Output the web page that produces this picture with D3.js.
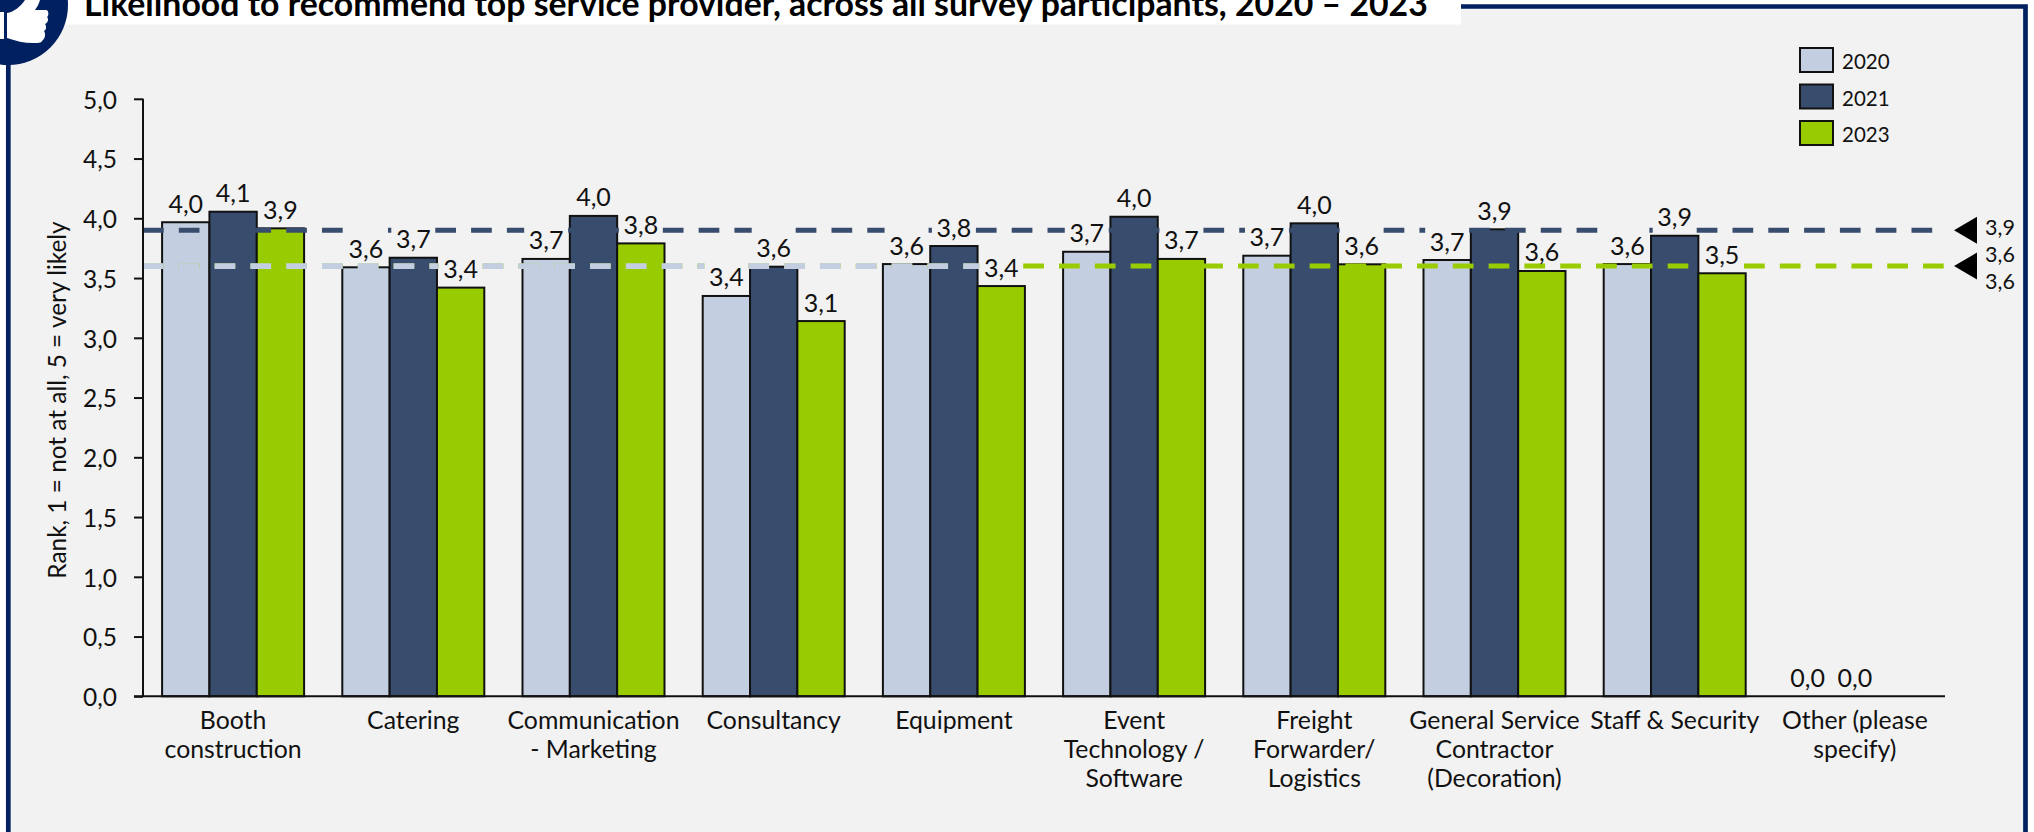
<!DOCTYPE html>
<html><head><meta charset="utf-8">
<script src="https://cdn.jsdelivr.net/npm/d3@7"></script>
<style>
html,body{margin:0;padding:0;background:#fff;overflow:hidden}
svg{display:block}
text{font-family:Lato,"Noto Sans",sans-serif;fill:#111}
</style></head><body><svg id="c" width="2034" height="832"></svg>
<script>
const categories=[["Booth","construction"],["Catering"],["Communication","- Marketing"],["Consultancy"],["Equipment"],["Event","Technology /","Software"],["Freight","Forwarder/","Logistics"],["General Service","Contractor","(Decoration)"],["Staff & Security"],["Other (please","specify)"]];
const years=["2020","2021","2023"];
const values2020=[3.967,3.59,3.66,3.35,3.617,3.72,3.687,3.651,3.617,0];
const values2021=[4.055,3.67,4.02,3.595,3.768,4.013,3.958,3.908,3.854,0];
const values2023=[3.916,3.42,3.79,3.14,3.433,3.66,3.615,3.559,3.54,null];
const averages=[3.6,3.9,3.6];
const yTicks=[0,.5,1,1.5,2,2.5,3,3.5,4,4.5,5];
const colors=["#c3cfe1","#384d6e","#99cc00"];
const title="Likelihood to recommend top service provider, across all survey participants, 2020 – 2023";
const yTitle="Rank, 1 = not at all, 5 = very likely";

const svg=d3.select("#c");
const X0=143,X1=1945,Y0=696.3,Y1=98.8;
const x=d3.scaleBand().domain(d3.range(categories.length)).range([X0,X1]).paddingInner(.212).paddingOuter(.106);
const xs=d3.scaleBand().domain(d3.range(3)).range([0,x.bandwidth()]);
const y=d3.scaleLinear().domain([0,5]).range([Y0,Y1]);
const fmt=d3.formatLocale({decimal:",",thousands:".",grouping:[3],currency:["","€"]}).format(".1f");
const NAVY="#002060",BG="#f2f2f2";

// panel + frame
svg.append("rect").attr("x",8).attr("y",6).attr("width",2017).attr("height",832).attr("fill",BG);
svg.append("path").attr("d","M8.3,832V6.5H2025.5V832").attr("fill","none").attr("stroke",NAVY).attr("stroke-width",4.7);
svg.append("rect").attr("x",60).attr("y",0).attr("width",1401).attr("height",24.5).attr("fill","#fff");
svg.append("text").attr("x",84).attr("y",16).attr("font-size",33.8).attr("font-weight",700).style("fill","#000").text(title);
// thumb icon
svg.append("circle").attr("cx",8).attr("cy",5).attr("r",60).attr("fill",NAVY);
svg.append("rect").attr("x",0).attr("y",12).attr("width",4).attr("height",27).attr("fill","#fff");
svg.append("path").attr("fill","#fff").attr("d","M7,13 C14,12 21,6 25,0 L40,0 C39,4 37,7 35,10 L46,10 C49,10 49,16 47,17 C49,19 48,23 45,24 C47,27 46,30 44,31 C46,34 45,39 42,41 C41,43 38,43 33,43 C24,43 16,41 7,38 Z");

// bars
const series=[values2020,values2021,values2023];
const labels=[];
series.forEach((vals,s)=>{
  svg.append("g").selectAll("rect").data(vals.map((v,i)=>({v,i})).filter(d=>d.v!==null&&d.v>0)).join("rect")
    .attr("x",d=>x(d.i)+xs(s)).attr("width",xs.bandwidth())
    .attr("y",d=>y(d.v)).attr("height",d=>Y0-y(d.v))
    .attr("fill",colors[s]).attr("stroke","#111").attr("stroke-width",2);
  vals.forEach((v,i)=>{ if(v!==null) labels.push({v,cx:x(i)+xs(s)+xs.bandwidth()/2,cy:y(v)-18}); });
});

// reference lines: each dashed run restarts after a label's box
const boxes=labels.map(l=>({x0:l.cx-22,x1:l.cx+22,y0:l.cy-22,y1:l.cy+13}));
function runs(val,endX){
  const yy=y(val),hit=boxes.filter(b=>b.y0<yy&&b.y1>yy).sort((a,b)=>a.x0-b.x0);
  const out=[];let st=X0;
  hit.forEach(b=>{ if(b.x0>st) out.push([st,Math.min(b.x0,endX)]); st=Math.max(st,b.x1); });
  if(st<endX) out.push([st,endX]);
  return out.filter(r=>r[1]>r[0]);
}
function drawRef(val,color,endX,w){
  svg.append("g").selectAll("line").data(runs(val,endX)).join("line")
   .attr("x1",d=>d[0]).attr("x2",d=>d[1]).attr("y1",y(val)).attr("y2",y(val))
   .attr("stroke",color).attr("stroke-width",w).attr("stroke-dasharray","20.7 15.1");
}
drawRef(averages[2],colors[2],X1,5);
drawRef(averages[1],colors[1],X1,5);
const lightEnd=x(4)+xs(2)+xs.bandwidth()/2-22;
drawRef(averages[0],colors[0],lightEnd,5.6);

// data labels
svg.append("g").selectAll("text").data(labels).join("text")
 .attr("x",d=>d.cx).attr("y",d=>d.cy+8.5).attr("text-anchor","middle").attr("font-size",25).text(d=>fmt(d.v));

// axes
const ya=svg.append("g").attr("transform",`translate(${X0},0)`).call(d3.axisLeft(y).tickValues(yTicks).tickSize(9).tickPadding(17).tickFormat(fmt));
ya.selectAll("text").attr("font-size",24.5).attr("font-family","Lato").attr("dy","0.38em").style("fill","#111");
ya.selectAll("line,path").attr("stroke","#111").attr("stroke-width",2);
ya.select("path").attr("d",`M0,${Y1}V${Y0}`);
svg.append("line").attr("x1",X0-9).attr("x2",X1).attr("y1",Y0).attr("y2",Y0).attr("stroke","#111").attr("stroke-width",2);

svg.append("text").attr("transform",`translate(66,400) rotate(-90)`).attr("text-anchor","middle").attr("font-size",24.4).text(yTitle);

// category labels
const cat=svg.append("g").selectAll("text").data(categories).join("text")
 .attr("text-anchor","middle").attr("font-size",24.8);
cat.each(function(lines,i){
  d3.select(this).selectAll("tspan").data(lines).join("tspan")
   .attr("x",x(i)+x.bandwidth()/2).attr("y",(d,k)=>728.5+k*29.3).text(d=>d);
});

// legend
const lg=svg.append("g").selectAll("g").data(years).join("g");
lg.append("rect").attr("x",1800).attr("y",(d,i)=>48+i*36.5).attr("width",33).attr("height",24)
 .attr("fill",(d,i)=>colors[i]).attr("stroke","#111").attr("stroke-width",2);
lg.append("text").attr("x",1842).attr("y",(d,i)=>69+i*36.5).attr("font-size",20.5).text(d=>d);

// right markers
svg.append("g").selectAll("path").data([averages[1],averages[0]]).join("path")
 .attr("d",d=>`M1954,${y(d)}L1977,${y(d)-13.5}V${y(d)+13.5}Z`).attr("fill","#000");
const rightLabels=[{v:averages[1],cy:227},{v:averages[0],cy:254},{v:averages[2],cy:281}];
svg.append("g").selectAll("text").data(rightLabels).join("text")
 .attr("x",2000).attr("y",d=>d.cy+7.5).attr("text-anchor","middle").attr("font-size",21.5).text(d=>fmt(d.v));
</script></body></html>
